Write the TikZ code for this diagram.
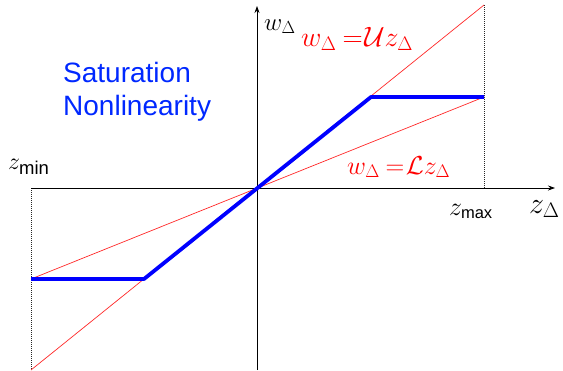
\RequirePackage{fix-cm}
\documentclass[tikz,border=0pt]{standalone}
\usepackage{fontspec}
\newfontfamily\arialf{Liberation Sans}
\usetikzlibrary{arrows.meta}
\definecolor{satblue}{RGB}{0,40,255}
\definecolor{linered}{RGB}{255,40,40}
\tikzset{
  axis/.style={black, line width=0.8pt, -{Stealth[length=7pt,width=5pt]}},
  guide/.style={black!85, line width=1pt, dash pattern=on 1pt off 1pt},
  redline/.style={linered, line width=0.7pt},
  satline/.style={blue, line width=3.8pt, line join=round},
  mathlbl/.style={inner sep=0pt, anchor=base west},
  redlbl/.style={inner sep=0pt, anchor=base west, text=red},
}
\newcommand{\fsz}[1]{\fontsize{#1}{#1}\selectfont}
\newcommand{\sfsub}[2]{\hbox{\arialf\fontsize{#1}{#1}\selectfont #2}}
\begin{document}
\begin{tikzpicture}[x=1pt,y=-1pt]
\useasboundingbox (0,0) rectangle (563,370);
\coordinate (O) at (257,188);
\coordinate (xl) at (31,188);
\coordinate (xr) at (555,188);
\coordinate (yb) at (257,370);
\coordinate (yt) at (257,6);
\coordinate (dlb) at (31,370);
\coordinate (drt) at (484,5);
\coordinate (drb) at (484,188);
\coordinate (Ull) at (31,370);
\coordinate (Uur) at (484,5);
\coordinate (Lll) at (31,279);
\coordinate (Lur) at (484,97);
\coordinate (b1) at (31,279);
\coordinate (b2) at (144,279);
\coordinate (b3) at (371,97);
\coordinate (b4) at (484,97);
% guides
\draw[guide] (xl) -- (dlb);
\draw[guide] (drt) -- (drb);
% axes
\draw[axis] (xl) -- (xr);
\draw[axis] (yb) -- (yt);
% red lines
\draw[redline] (Ull) -- (Uur);
\draw[redline] (Lll) -- (Lur);
% saturation
\draw[satline] (b1) -- (b2) -- (b3) -- (b4);
% labels
\node[mathlbl, font=\fsz{25}] (wl) at (264,30) {$w_\Delta$};
\node[redlbl, font=\fsz{28}] (ul) at (301,46) {$w_\Delta\mskip4mu{=}\mskip1mu\mathcal{U}z_\Delta$};
\node[redlbl, font=\fsz{26}] (ll) at (347,174) {$w_\Delta\mskip4mu{=}\mskip1mu\mathcal{L}z_\Delta$};
\node[mathlbl, font=\fsz{24}] (zmin) at (8,169) {$z_{\sfsub{18.5}{min}}$};
\node[mathlbl, font=\fsz{26}] (zmax) at (449,215) {$z_{\sfsub{16.5}{max}}$};
\node[mathlbl, font=\fsz{30}] (zd) at (529,213) {$z_\Delta$};
\node[inner sep=0pt, anchor=base west, text=satblue, align=left,
      font=\arialf\fontsize{28}{33}\selectfont] (title) at (63,115) {Saturation\\Nonlinearity};
\end{tikzpicture}
\end{document}
